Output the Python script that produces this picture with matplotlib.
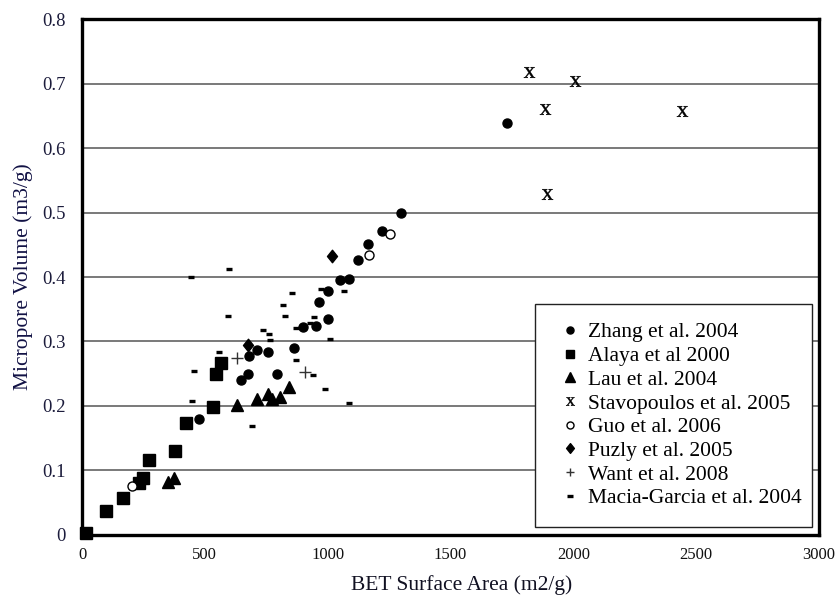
import matplotlib
matplotlib.use('Agg')
import matplotlib.pyplot as plt
from matplotlib.path import Path

plt.rcParams['font.family'] = ['Liberation Serif', 'DejaVu Serif']
plt.rcParams['mathtext.fontset'] = 'custom'
plt.rcParams['mathtext.rm'] = 'Liberation Serif'

# ---- data (BET surface area m2/g, micropore volume m3/g) ----
zhang_x = [1297, 1222, 1163, 1125, 1085, 1050, 1000, 966, 1000, 951, 898, 864,
           758, 711, 681, 677, 646, 795, 476, 1728]
zhang_y = [0.499, 0.471, 0.451, 0.427, 0.397, 0.395, 0.378, 0.362, 0.335, 0.324,
           0.322, 0.290, 0.283, 0.287, 0.277, 0.249, 0.240, 0.249, 0.180, 0.640]

alaya_x = [15, 98, 165, 230, 250, 273, 378, 422, 535, 545, 566]
alaya_y = [0.003, 0.036, 0.057, 0.080, 0.088, 0.116, 0.130, 0.174, 0.199, 0.249, 0.266]

lau_x = [351, 376, 630, 714, 757, 774, 806, 844]
lau_y = [0.082, 0.088, 0.202, 0.210, 0.219, 0.211, 0.214, 0.230]

stav_x = [1819, 2007, 1884, 2441, 1894]
stav_y = [0.718, 0.705, 0.661, 0.658, 0.529]

guo_x = [205, 1169, 1253]
guo_y = [0.075, 0.435, 0.467]

puzly_x = [1016, 677]
puzly_y = [0.433, 0.295]

want_x = [632, 909]
want_y = [0.274, 0.252]

macia_x = [442, 600, 594, 559, 456, 449, 692, 1087, 855, 819, 826, 735, 761, 766,
           871, 928, 944, 971, 1066, 1009, 871, 941, 989]
macia_y = [0.400, 0.413, 0.340, 0.284, 0.254, 0.208, 0.169, 0.204, 0.376, 0.357,
           0.340, 0.318, 0.311, 0.302, 0.321, 0.329, 0.338, 0.381, 0.379, 0.304,
           0.272, 0.248, 0.226]

labels = ['Zhang et al. 2004', 'Alaya et al 2000', 'Lau et al. 2004',
          'Stavopoulos et al. 2005', 'Guo et al. 2006', 'Puzly et al. 2005',
          'Want et al. 2008', 'Macia-Garcia et al. 2004']

x_ticks = [0, 500, 1000, 1500, 2000, 2500, 3000]
y_ticks = [0, 0.1, 0.2, 0.3, 0.4, 0.5, 0.6, 0.7, 0.8]
y_ticklabels = ['0', '0.1', '0.2', '0.3', '0.4', '0.5', '0.6', '0.7', '0.8']

# ---- figure ----
fig = plt.figure(figsize=(8.37, 5.96), dpi=100)
ax = fig.add_axes([0.098, 0.1029, 0.8805, 0.8644])

diamond = Path([(0, 1), (0.8, 0), (0, -1), (-0.8, 0), (0, 1)],
               [Path.MOVETO, Path.LINETO, Path.LINETO, Path.LINETO, Path.CLOSEPOLY])

common = dict(linestyle='none', clip_on=False, zorder=3)
ax.plot(zhang_x, zhang_y, marker='o', ms=6.5, mfc='black', mec='black', label=labels[0], **common)
ax.plot(alaya_x, alaya_y, marker='s', ms=8.3, mfc='black', mec='black', label=labels[1], **common)
ax.plot(lau_x, lau_y, marker='^', ms=8.5, mfc='black', mec='black', label=labels[2], **common)
ax.plot(stav_x, stav_y, marker=r'$\mathrm{x}$', ms=8, mew=0.3, color='black', label=labels[3], **common)
ax.plot(guo_x, guo_y, marker='o', ms=6.5, mfc='white', mec='black', mew=1.0, label=labels[4], **common)
ax.plot(puzly_x, puzly_y, marker=diamond, ms=9, mfc='black', mec='black', label=labels[5], **common)
ax.plot(want_x, want_y, marker='+', ms=8, mew=1.0, color='#333333', label=labels[6], **common)
ax.plot(macia_x, macia_y, marker='_', ms=5, mew=2.4, color='black', label=labels[7], **common)

ax.set_xlim(0, 3000)
ax.set_ylim(0, 0.8)
ax.set_xticks(x_ticks)
ax.set_xticklabels([str(v) for v in x_ticks])
ax.set_yticks(y_ticks)
ax.set_yticklabels(y_ticklabels)
ax.tick_params(length=0)
ax.tick_params(axis='x', pad=9, labelsize=12, labelcolor='#111111')
ax.tick_params(axis='y', pad=12, labelsize=13.5, labelcolor='#1c1c3c')

ax.yaxis.grid(True, color='#555555', linewidth=1.1)
ax.set_axisbelow(True)
for s in ax.spines.values():
    s.set_linewidth(2.4)
    s.set_color('black')

ax.set_xlabel('BET Surface Area (m2/g)', fontsize=15.5, color='#111122')
ax.set_ylabel('Micropore Volume (m3/g)', fontsize=15.5, color='#111144')
ax.xaxis.set_label_coords(0.5156, -0.078)
ax.yaxis.set_label_coords(-0.066, 0.5)

leg = ax.legend(loc='upper left', bbox_to_anchor=(0.6147, 0.015, 0.3758, 0.4328),
                mode='expand', borderaxespad=0, fontsize=15.5, frameon=True,
                fancybox=False, edgecolor='#222222', framealpha=1,
                borderpad=0.85, handlelength=1.55, handletextpad=0.05,
                labelspacing=0.17, markerscale=0.78)
leg.get_frame().set_linewidth(1.0)

fig.savefig('out.png', dpi=100)
